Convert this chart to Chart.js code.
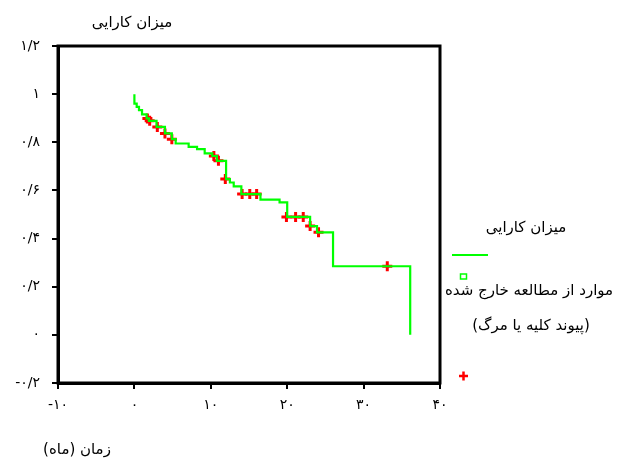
<!DOCTYPE html>
<html>
<head>
<meta charset="utf-8">
<script src="https://cdn.jsdelivr.net/npm/chart.js@4/dist/chart.umd.min.js"></script>
<style>
  html, body { margin: 0; padding: 0; background: #fff; }
  canvas { display: block; }
</style>
</head>
<body>
<canvas id="chart" width="619" height="461"></canvas>
<script>
// Kaplan-Meier curve (time in months, survival)
const kmTime = [0, 0, 0.3, 0.6, 1.0, 1.6, 1.9, 2.9, 4.0, 4.9, 5.4, 7.1, 8.2, 9.2, 10.2, 10.8, 12.0, 12.5, 13.0, 14.0, 16.5, 19.0, 20.0, 23.0, 23.9, 26.0, 36.1];
const kmSurv = [1, 0.961, 0.947, 0.934, 0.916, 0.899, 0.889, 0.864, 0.837, 0.813, 0.795, 0.781, 0.772, 0.754, 0.743, 0.723, 0.647, 0.633, 0.617, 0.585, 0.562, 0.550, 0.490, 0.452, 0.426, 0.285, 0];

// censored cases
const cenTime = [1.7, 2.0, 3.0, 4.0, 4.9, 10.4, 11.0, 11.9, 14.1, 15.1, 16.0, 19.9, 21.1, 22.1, 23.0, 24.1, 33.1];
const cenSurv = [0.899, 0.889, 0.864, 0.837, 0.813, 0.743, 0.723, 0.647, 0.585, 0.585, 0.585, 0.490, 0.490, 0.490, 0.452, 0.426, 0.285];

const yTitle = 'میزان کارایی';
const xTitle = 'زمان (ماه)';
const legendLine = 'میزان کارایی';
const legendCens1 = 'موارد از مطالعه خارج شده';
const legendCens2 = '(پیوند کلیه یا مرگ)';

const FONT = "'DejaVu Sans', sans-serif";
const faDigits = '۰۱۲۳۴۵۶۷۸۹';
const toFa = v => {
  const r = Math.round(v * 10) / 10;
  return String(r).replace(/\d/g, d => faDigits[d]).replace('.', '/');
};

const extras = {
  id: 'extras',
  afterDraw(chart) {
    const {ctx, chartArea: a} = chart;
    ctx.save();
    ctx.strokeStyle = '#000';
    ctx.lineWidth = 3;
    ctx.strokeRect(a.left, a.top, a.right - a.left, a.bottom - a.top);

    ctx.fillStyle = '#000';
    ctx.font = '15px ' + FONT;
    ctx.direction = 'rtl';
    ctx.textAlign = 'center';
    ctx.textBaseline = 'middle';
    ctx.fillText(yTitle, 132, 23);
    ctx.fillText(xTitle, 77, 450);
    ctx.fillText(legendLine, 526, 228);
    ctx.fillText(legendCens1, 529, 291);
    ctx.fillText(legendCens2, 531, 326);

    // legend symbols
    ctx.strokeStyle = '#00ff00';
    ctx.lineWidth = 2;
    ctx.beginPath();
    ctx.moveTo(452, 255);
    ctx.lineTo(488, 255);
    ctx.stroke();
    ctx.lineWidth = 1.5;
    ctx.strokeRect(460.5, 274, 6, 5);
    ctx.strokeStyle = '#ff0000';
    ctx.lineWidth = 2.5;
    ctx.beginPath();
    ctx.moveTo(459, 376); ctx.lineTo(468, 376);
    ctx.moveTo(463.5, 371.5); ctx.lineTo(463.5, 380.5);
    ctx.stroke();
    ctx.restore();
  }
};

new Chart(document.getElementById('chart').getContext('2d'), {
  type: 'line',
  data: {
    datasets: [
      {
        label: legendLine,
        data: kmTime.map((t, i) => ({x: t, y: kmSurv[i]})),
        stepped: 'before',
        borderColor: '#00ff00',
        borderWidth: 2.2,
        pointRadius: 0,
        fill: false
      },
      {
        label: legendCens1,
        data: cenTime.map((t, i) => ({x: t, y: cenSurv[i]})),
        showLine: false,
        pointStyle: 'cross',
        pointRadius: 5,
        borderColor: '#ff0000',
        backgroundColor: '#ff0000',
        borderWidth: 3
      }
    ]
  },
  options: {
    responsive: false,
    animation: false,
    layout: {padding: {left: 0, right: 179, top: 46, bottom: 0}},
    plugins: {legend: {display: false}, tooltip: {enabled: false}},
    scales: {
      x: {
        type: 'linear',
        min: -10, max: 40,
        afterFit: s => { s.height = 78; },
        ticks: {stepSize: 10, padding: 8, color: '#000', font: {family: FONT, size: 14}, callback: v => toFa(v)},
        grid: {drawOnChartArea: false, drawTicks: true, tickLength: 6, color: '#000', lineWidth: 2},
        border: {display: true, color: '#000', width: 3}
      },
      y: {
        min: -0.2, max: 1.2,
        afterFit: s => { s.width = 58; },
        ticks: {stepSize: 0.2, padding: 12, color: '#000', font: {family: FONT, size: 14}, callback: v => toFa(v)},
        grid: {drawOnChartArea: false, drawTicks: true, tickLength: 6, color: '#000', lineWidth: 2},
        border: {display: true, color: '#000', width: 3}
      }
    }
  },
  plugins: [extras]
});
</script>
</body>
</html>
